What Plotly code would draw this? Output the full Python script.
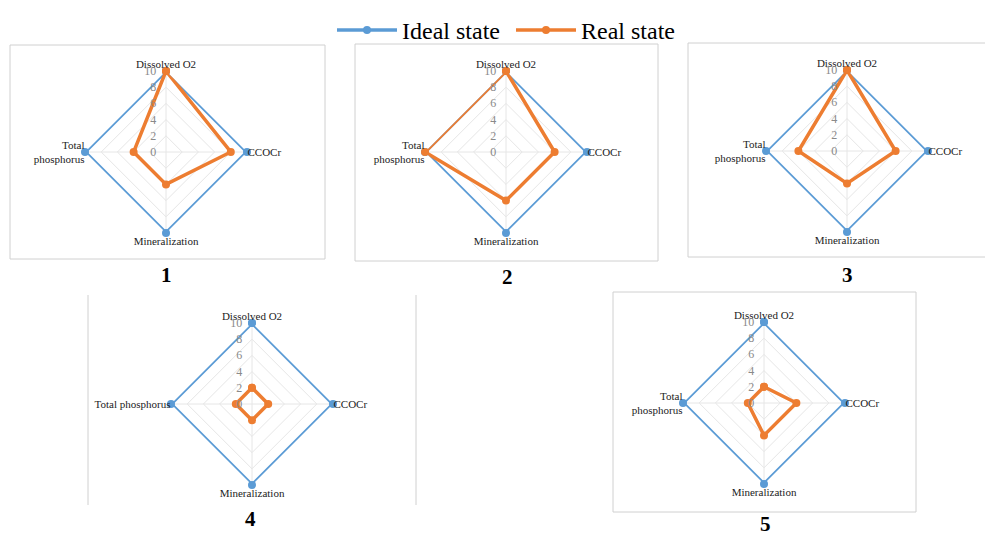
import plotly.graph_objects as go

categories = ['Dissolved O2', 'CCOCr', 'Mineralization', 'Total phosphorus']
ideal = [10, 10, 10, 10]
real_1 = [10, 8, 4, 4]
real_2 = [10, 6, 6, 10]
real_3 = [10, 6, 4, 6]
real_4 = [2, 2, 2, 2]
real_5 = [2, 4, 4, 2]
reals = [real_1, real_2, real_3, real_4, real_5]
panel_names = ['1', '2', '3', '4', '5']

# page has an 8px body margin, so the figure starts at (8, 8) in the window
OFF = 8
W, H = 993 - OFF, 537 - OFF
BLUE = '#5B9BD5'
ORANGE = '#ED7D31'
FONT = 'Liberation Serif'

centres = [(166, 152), (506, 152), (847, 151), (252, 404), (764, 403)]
R = 81
# panel boxes (x0, y0, x1, y1) in window pixels
boxes = [(10, 45, 325, 259), (355, 44, 658, 261), (688, 43, 1000, 257), None, (613, 292, 916, 512)]
label_pos = [(166, 275), (507, 277), (847, 275), (250, 519), (765, 524)]


def px(x):
    return (x - OFF) / W


def py(y):
    return 1 - (y - OFF) / H


fig = go.Figure()

for i, real in enumerate(reals):
    pid = 'polar' if i == 0 else 'polar%d' % (i + 1)
    lab = categories[:]
    if i != 3:
        lab[3] = 'Total<br>phosphorus'
    labs = lab + lab[:1]
    fig.add_trace(go.Scatterpolar(r=ideal + ideal[:1], theta=labs, mode='lines+markers', name='Ideal state',
                                  line=dict(color=BLUE, width=3.5), marker=dict(size=8, color=BLUE),
                                  subplot=pid, showlegend=(i == 0), legendgroup='ideal'))
    fig.add_trace(go.Scatterpolar(r=real + real[:1], theta=labs, mode='lines+markers', name='Real state',
                                  line=dict(color=ORANGE, width=3.5), marker=dict(size=8, color=ORANGE),
                                  subplot=pid, showlegend=(i == 0), legendgroup='real'))
    cx, cy = centres[i]
    fig.update_layout({pid: dict(
        domain=dict(x=[px(cx - R), px(cx + R)], y=[py(cy + R), py(cy - R)]),
        gridshape='linear',
        bgcolor='white',
        angularaxis=dict(rotation=90, direction='clockwise', showline=False, ticks='',
                         gridcolor='#E6E6E6', tickfont=dict(family=FONT, size=11, color='#222')),
        radialaxis=dict(range=[0, 10], dtick=2, angle=90, tickangle=90, side='counterclockwise',
                        showline=False, ticks='outside', ticklen=5, tickcolor='rgba(0,0,0,0)',
                        gridcolor='#E6E6E6', tickfont=dict(family=FONT, size=12, color='#8a8a8a')),
    )})

shapes = []
for b in boxes:
    if b is None:
        continue
    x0, y0, x1, y1 = b
    shapes.append(dict(type='rect', xref='paper', yref='paper', x0=px(x0), x1=px(x1), y0=py(y1), y1=py(y0),
                       line=dict(color='#D0D0D0', width=1)))
for x in (88, 416):
    shapes.append(dict(type='line', xref='paper', yref='paper', x0=px(x), x1=px(x), y0=py(505), y1=py(295),
                       line=dict(color='#D0D0D0', width=1)))

annotations = []
for name, (x, y) in zip(panel_names, label_pos):
    annotations.append(dict(text='<b>%s</b>' % name, x=px(x), y=py(y), xref='paper', yref='paper',
                            xanchor='center', yanchor='middle', showarrow=False,
                            font=dict(family=FONT, size=21, color='black')))

fig.update_layout(
    width=W, height=H,
    margin=dict(l=0, r=0, t=0, b=0),
    paper_bgcolor='white',
    font=dict(family=FONT),
    shapes=shapes,
    annotations=annotations,
    legend=dict(orientation='h', x=px(332), xanchor='left', y=1, yanchor='top',
                bgcolor='rgba(0,0,0,0)',
                font=dict(family=FONT, size=24, color='black'), itemwidth=60,
                entrywidth=104, entrywidthmode='pixels'),
)

fig.write_html('out.html')
